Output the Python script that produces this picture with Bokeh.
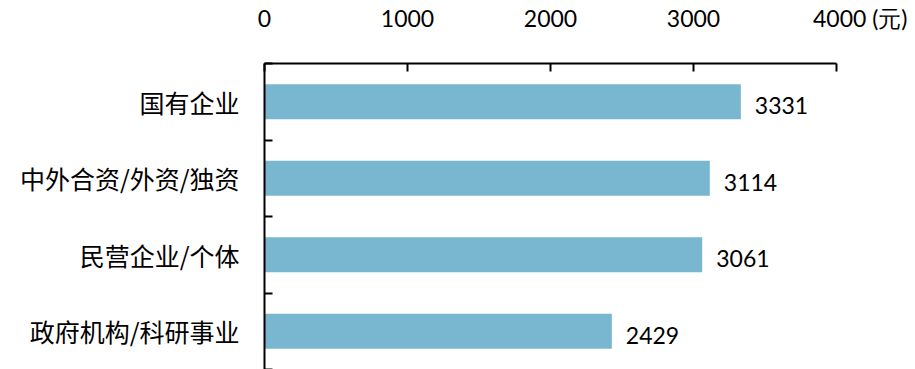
from bokeh.plotting import figure
from bokeh.models import Range1d, FixedTicker, ColumnDataSource
from bokeh.core.properties import value
from bokeh.embed import file_html
from bokeh.resources import INLINE

categories = ["国有企业", "中外合资/外资/独资", "民营企业/个体", "政府机构/科研事业"]
salaries = [3331, 3114, 3061, 2429]
x_ticks = [0, 1000, 2000, 3000, 4000]
unit_label = "(元)"

n = len(categories)
idx = list(range(n))
src = ColumnDataSource(dict(y=idx, v=salaries, t=[str(s) for s in salaries]))

p = figure(width=907, height=369, output_backend="svg", toolbar_location=None,
           x_range=Range1d(0, 4000), y_range=Range1d(n - 0.5, -0.5),
           x_axis_location="above", min_border_left=264, min_border_top=62,
           min_border_right=71, min_border_bottom=0)
p.outline_line_color = None
p.xgrid.visible = False
p.ygrid.visible = False

p.hbar(y="y", right="v", left=0, height=0.46, source=src,
       fill_color="#79B7D1", line_color=None)
p.text(x="v", y="y", text="t", source=src, x_offset=14, y_offset=4,
       text_baseline="middle", text_align="left", text_font=value("Lato"),
       text_font_size="23px", text_color="#000000")

xa = p.xaxis[0]
xa.ticker = FixedTicker(ticks=x_ticks, minor_ticks=[])
pad = "\u00a0" * 10
xa.major_label_overrides = {x_ticks[-1]: pad + str(x_ticks[-1]) + " " + unit_label}
xa.axis_line_width = 2
xa.axis_line_color = "black"
xa.major_tick_in = 8
xa.major_tick_out = 0
xa.major_tick_line_width = 2
xa.minor_tick_in = 0
xa.minor_tick_out = 0
xa.major_label_text_font = "Lato"
xa.major_label_text_font_size = "23px"
xa.major_label_text_color = "#000000"
xa.major_label_standoff = 32

ya = p.yaxis[0]
ya.ticker = FixedTicker(ticks=idx, minor_ticks=[i + 0.5 for i in range(-1, n)])
ya.major_label_overrides = {i: c for i, c in enumerate(categories)}
ya.axis_line_width = 2
ya.axis_line_color = "black"
ya.major_tick_in = 0
ya.major_tick_out = 0
ya.minor_tick_in = 8
ya.minor_tick_out = 0
ya.minor_tick_line_width = 2
ya.major_label_text_font = "Noto Sans CJK SC"
ya.major_label_text_font_size = "25px"
ya.major_label_text_color = "#000000"
ya.major_label_standoff = 25

open("out.html", "w").write(file_html(p, INLINE))
